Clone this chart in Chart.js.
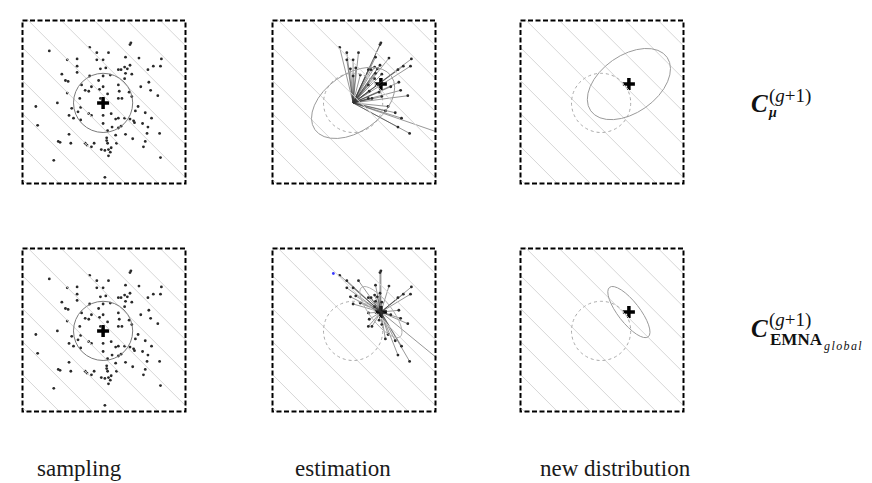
<!DOCTYPE html>
<html>
<head>
<meta charset="utf-8">
<script src="https://cdn.jsdelivr.net/npm/chart.js@4.4.1/dist/chart.umd.min.js"></script>
<style>
  body { margin:0; width:872px; height:483px; background:#fff; position:relative; overflow:hidden; font-family:"Liberation Serif", serif; }
  .panel { position:absolute; width:184px; height:184px; }
  .cap { position:absolute; font-size:23px; color:#1a1a1a; white-space:nowrap; }
  .m { position:absolute; white-space:nowrap; color:#111; line-height:1.15; }
</style>
</head>
<body>
<div class="panel" style="left:12px;top:10px"><canvas id="sampTop" width="184" height="184"></canvas></div>
<div class="panel" style="left:262px;top:10px"><canvas id="estTop" width="184" height="184"></canvas></div>
<div class="panel" style="left:510px;top:10px"><canvas id="newTop" width="184" height="184"></canvas></div>
<div class="panel" style="left:12px;top:238px"><canvas id="sampBot" width="184" height="184"></canvas></div>
<div class="panel" style="left:262px;top:238px"><canvas id="estBot" width="184" height="184"></canvas></div>
<div class="panel" style="left:510px;top:238px"><canvas id="newBot" width="184" height="184"></canvas></div>

<div class="m" style="left:751px;top:90px;font:bold italic 25px 'Liberation Serif'">C</div>
<div class="m" style="left:769px;top:85px;font:19px 'Liberation Serif'">(<i>g</i>+1)</div>
<div class="m" style="left:769px;top:105px;font:bold italic 14px 'Liberation Serif'">μ</div>

<div class="m" style="left:751px;top:315px;font:bold italic 25px 'Liberation Serif'">C</div>
<div class="m" style="left:769px;top:309px;font:19px 'Liberation Serif'">(<i>g</i>+1)</div>
<div class="m" style="left:770px;top:330px;font:bold 17px 'Liberation Serif'">EMNA</div>
<div class="m" style="left:824px;top:339px;font:italic 12px 'Liberation Serif';letter-spacing:1.4px">global</div>

<div class="cap" style="left:37px;top:456px">sampling</div>
<div class="cap" style="left:295px;top:456px">estimation</div>
<div class="cap" style="left:540px;top:456px">new distribution</div>

<script>
// sample drawn from the old distribution (mean at 0,0, unit circle radius 33)
const sample = [
  [-60,58],[-40,48],[-29,49],[-15,62],[-7,56],[6,56],[-7,48],[0,48],[30,65],[31,67],
  [25,51],[40,50],[65,49],[56,41],[64,41],[-29,41],[-29,34],[-46,32],[-42,25],[-39,24],
  [-15,30],[-3,38],[3,39],[0,30],[17,37],[20,37],[24,40],[27,38],[30,42],[25,33],
  [32,32],[8,31],[24,27],[50,37],[51,23],[53,14],[61,8],[42,18],[-40,11],[-51,0],
  [-24,20],[-20,14],[-16,13],[-13,18],[-5,25],[-4,15],[0,18],[5,10],[17,20],[18,13],
  [21,5],[29,12],[32,7],[17,5],[-26,5],[-3,5],[-35,-6],[-25,-5],[-28,-10],[-38,-14],
  [-33,-17],[-25,-19],[-16,-12],[-13,-14],[0,-14],[9,-12],[14,-18],[17,-17],[24,-17],[30,-18],
  [34,-20],[35,-22],[39,-4],[36,-9],[47,-11],[54,-17],[44,-23],[50,-27],[49,-34],[63,-34],
  [-73,-25],[-75,-4],[0,-23],[5,-31],[10,-27],[17,-28],[20,-26],[14,-36],[25,-35],[33,-40],
  [-38,-35],[-50,-43],[-48,-44],[-36,-45],[-20,-45],[-18,-47],[-10,-45],[-13,-49],[4,-39],[4,-42],
  [5,-45],[15,-45],[-2,-52],[2,-53],[6,-52],[8,-55],[9,-50],[6,-59],[47,-43],[45,-49],
  [64,-61],[-55,-64],[2,-83],[98,-34]
];
const oldMean = [0, 0];
const newMean = [31, 21];
const strayPt = [[-22, 64]];

// objective contours: normal direction (deg) and level values
const contourAngle = 45;
const contourLevels = [-124, -98, -72, -46, -20, 6, 32, 58, 84, 110, 136];
const cutLevel = 15;   // points with f above this are the selected ones

// old circle, rank-mu ellipse and EMNA-global ellipse: [a, b, rotation deg]
const oldShape = [33, 33, 0];
const muShape = [52, 32, 35];
const emnaShape = [35, 12, -52];

const rad = contourAngle * Math.PI / 180;
const nx = Math.cos(rad), ny = Math.sin(rad);
const fval = p => p[0] * nx + p[1] * ny;
const best = sample.filter(p => fval(p) > cutLevel);

const xy = p => ({x: p[0], y: p[1]});

function contourSets() {
  const L = 200;
  return contourLevels.map(c => ({
    data: [{x: c*nx + L*ny, y: c*ny - L*nx}, {x: c*nx - L*ny, y: c*ny + L*nx}],
    showLine: true, borderColor: '#d6d6d6', borderWidth: 1, pointRadius: 0, clip: 0
  }));
}

function raySets(from) {
  return best.map(p => ({
    data: [xy(from), xy(p)],
    showLine: true, borderColor: 'rgba(50,50,50,0.5)', borderWidth: 1, pointRadius: 0, clip: 0
  }));
}

function dots(pts, color) {
  return {data: pts.map(xy), pointRadius: 1.4, pointBackgroundColor: color || '#2a2a2a',
          pointBorderWidth: 0, clip: 0};
}

function plus(p) {
  return {data: [xy(p)], pointStyle: 'cross', pointRadius: 6, pointBorderWidth: 3.5,
          pointBorderColor: '#000', clip: 0};
}

const frame = {
  id: 'frame',
  afterDraw(chart) {
    const {ctx, chartArea: a} = chart;
    ctx.save();
    ctx.strokeStyle = '#000';
    ctx.lineWidth = 2;
    ctx.setLineDash([5, 2.5]);
    ctx.strokeRect(a.left + 1, a.top + 1, a.width - 2, a.height - 2);
    ctx.restore();
  }
};

const shapes = {
  id: 'shapes',
  afterDatasetsDraw(chart, args, opts) {
    const {ctx, scales: {x, y}} = chart;
    const k = x.getPixelForValue(1) - x.getPixelForValue(0);
    (opts.items || []).forEach(s => {
      ctx.save();
      ctx.beginPath();
      ctx.ellipse(x.getPixelForValue(s.c[0]), y.getPixelForValue(s.c[1]),
                  s.e[0]*k, s.e[1]*k, -s.e[2]*Math.PI/180, 0, Math.PI*2);
      ctx.strokeStyle = s.color;
      ctx.lineWidth = 1;
      ctx.setLineDash(s.dash || []);
      ctx.stroke();
      ctx.restore();
    });
  }
};

function panel(id, datasets, items) {
  new Chart(document.getElementById(id), {
    type: 'scatter',
    data: {datasets},
    options: {
      responsive: false, animation: false, events: [],
      layout: {padding: 0},
      plugins: {legend: {display: false}, tooltip: {enabled: false}, shapes: {items}},
      scales: {
        x: {type: 'linear', min: -91, max: 93, display: false},
        y: {type: 'linear', min: -91, max: 93, display: false}
      }
    },
    plugins: [shapes, frame]
  });
}

const oldDashed = {c: oldMean, e: oldShape, color: '#a8a8a8', dash: [3, 3]};

panel('sampTop', [...contourSets(), dots(sample), plus(oldMean)],
      [{c: oldMean, e: oldShape, color: '#7a7a7a'}]);
panel('estTop', [...contourSets(), ...raySets(oldMean), dots(best), plus(newMean)],
      [oldDashed, {c: oldMean, e: muShape, color: '#9a9a9a'}]);
panel('newTop', [...contourSets(), plus(newMean)],
      [oldDashed, {c: newMean, e: muShape, color: '#9a9a9a'}]);

panel('sampBot', [...contourSets(), dots(sample), plus(oldMean)],
      [{c: oldMean, e: oldShape, color: '#7a7a7a'}]);
panel('estBot', [...contourSets(), ...raySets(newMean), dots(best), dots(strayPt, '#3a3aff'), plus(newMean)],
      [oldDashed, {c: newMean, e: emnaShape, color: '#b0b0b0'}]);
panel('newBot', [...contourSets(), plus(newMean)],
      [oldDashed, {c: newMean, e: emnaShape, color: '#9a9a9a'}]);
</script>
</body>
</html>
